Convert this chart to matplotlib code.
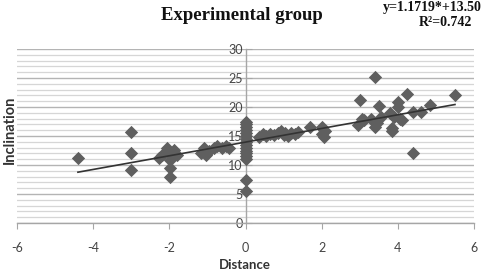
import matplotlib
matplotlib.use("Agg")
import matplotlib.pyplot as plt
import numpy as np
from matplotlib.ticker import MultipleLocator

plt.rcParams['axes.unicode_minus'] = False

# Data
distance = [-4.4, -3.0, -3.0, -3.0,
            -2.28, -2.19, -2.06, -2.01, -1.97, -1.97, -1.97, -1.88, -1.79,
            -1.18, -1.09, -1.05, -0.96,
            -0.83, -0.74, -0.61, -0.52, -0.44,
            0, 0, 0, 0, 0, 0, 0, 0, 0, 0, 0, 0, 0, 0, 0, 0,
            0.35, 0.45, 0.55, 0.65, 0.75, 0.85, 0.92, 1.0, 1.05, 1.12, 1.2, 1.3, 1.38,
            1.7, 2.0, 2.05, 2.0, 2.1, 2.05,
            2.95, 3.0, 3.05, 3.1,
            3.3, 3.4, 3.4, 3.45, 3.5, 3.55,
            3.8, 3.85, 3.85, 3.9, 4.0, 4.0, 4.05, 4.1, 4.25,
            4.4, 4.4, 4.6, 4.85, 5.5]
inclination = [11.2, 15.7, 12.1, 9.1,
               11.2, 11.7, 12.9, 12.0, 10.9, 9.4, 8.0, 12.6, 11.7,
               12.1, 12.9, 11.8, 12.4,
               12.9, 13.2, 12.9, 13.2, 12.9,
               17.5, 17.0, 16.5, 16.0, 15.5, 15.0, 14.5, 14.0, 13.5, 13.0, 12.5, 12.0, 11.5, 11.0, 7.5, 5.5,
               14.9, 15.3, 15.0, 15.4, 15.1, 15.5, 15.9, 15.2, 15.5, 15.0, 15.6, 15.3, 15.7,
               16.6, 16.6, 16.0, 15.3, 15.8, 14.9,
               16.9, 21.2, 18.0, 17.7,
               18.0, 25.1, 16.6, 17.3, 20.1, 18.2,
               19.0, 15.8, 16.4, 18.2, 20.9, 20.0, 18.0, 17.8, 22.2,
               12.0, 19.2, 19.2, 20.3, 22.1]

title = "Experimental group"
equation = "y=1.1719*+13.50"
r2_text = "R²=0.742"
xlabel = "Distance"
ylabel = "Inclination"

fig = plt.figure(figsize=(4.86, 2.75), dpi=100)
ax = fig.add_axes([17/486, (275-223)/275, (474-17)/486, (223-49)/275])

ax.set_xlim(-6, 6)
ax.set_ylim(0, 30)

ax.yaxis.set_major_locator(MultipleLocator(5))
ax.yaxis.set_minor_locator(MultipleLocator(1))
ax.xaxis.set_major_locator(MultipleLocator(2))
ax.grid(axis='y', which='major', color='#b4b4b4', lw=1.0, zorder=0)
ax.grid(axis='y', which='minor', color='#d6d6d6', lw=0.9, zorder=0)
ax.set_axisbelow(True)

for s in ['top', 'right']:
    ax.spines[s].set_visible(False)
ax.spines['left'].set_position(('data', 0))
ax.spines['left'].set_color('#a6a6a6')
ax.spines['bottom'].set_color('#a6a6a6')
ax.spines['left'].set_linewidth(1.0)
ax.spines['bottom'].set_linewidth(1.0)

ax.tick_params(axis='x', which='major', direction='out', length=4, color='#a6a6a6',
               labelcolor='#444444', pad=10)
ax.tick_params(axis='y', which='major', direction='in', length=4, color='#a6a6a6',
               labelcolor='#444444', pad=2)
ax.tick_params(axis='y', which='minor', length=0)
for lab in ax.get_xticklabels() + ax.get_yticklabels():
    lab.set_fontfamily('Lato')
    lab.set_fontsize(9)

x = np.array(distance)
y = np.array(inclination)
ax.scatter(x, y, marker='D', s=46, color='#5f5f5f', zorder=3, linewidths=0)
m, b = np.polyfit(x, y, 1)
fx = np.array([x.min(), x.max()])
ax.plot(fx, m * fx + b, color='#333333', lw=1.2, zorder=4)

fig.text(242/486, 1 - 16/275, title, ha='center', va='center',
         family='Liberation Serif', fontweight='bold', fontsize=13.5, color='#111111')
fig.text(482/486, 1 - 7/275, equation, ha='right', va='center',
         family='Liberation Serif', fontweight='bold', fontsize=10, color='#111111')
fig.text(472/486, 1 - 23/275, r2_text, ha='right', va='center',
         family='Liberation Serif', fontweight='bold', fontsize=10, color='#111111')
fig.text(245/486, 1 - 265/275, xlabel, ha='center', va='center',
         family='Lato', fontweight='bold', fontsize=9.5, color='#333333')
fig.text(10/486, 1 - 130/275, ylabel, ha='center', va='center', rotation=90,
         family='Lato', fontweight='bold', fontsize=10.5, color='#333333')

fig.savefig('out.png', dpi=100)
